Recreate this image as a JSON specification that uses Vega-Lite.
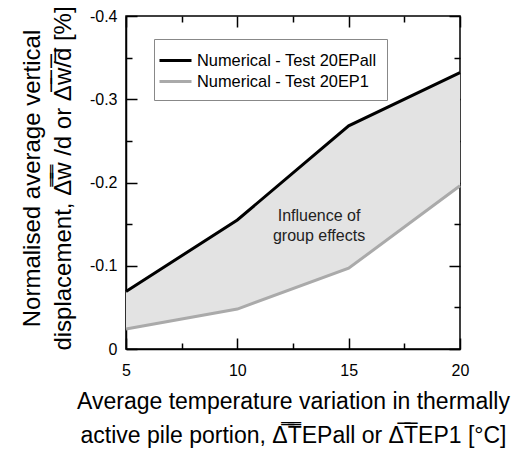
{
  "$schema": "https://vega.github.io/schema/vega-lite/v6.json",
  "width": 334,
  "height": 333,
  "autosize": "none",
  "padding": {"left": 126, "top": 16, "right": 56, "bottom": 109},
  "background": "white",
  "config": {
    "view": {"stroke": "black", "strokeWidth": 1.5},
    "font": "Liberation Sans",
    "axis": {
      "grid": false,
      "domainColor": "black",
      "domainWidth": 1.5,
      "tickColor": "black",
      "tickWidth": 1.5,
      "labelFont": "Liberation Sans",
      "labelFontSize": 16,
      "labelColor": "black",
      "titleColor": "black",
      "titleFont": "Liberation Sans",
      "titleFontWeight": "normal"
    },
    "legend": {
      "orient": "none",
      "legendX": 28,
      "legendY": 23,
      "title": null,
      "symbolType": "M-1.6,0H1.6",
      "symbolSize": 400,
      "symbolStrokeWidth": 3,
      "labelFont": "Liberation Sans",
      "labelFontSize": 16.4,
      "labelColor": "black",
      "labelOffset": 10,
      "labelLimit": 400,
      "fillColor": "white",
      "strokeColor": "#888",
      "padding": 10,
      "rowPadding": 1
    }
  },
  "data": {
    "values": [
      {"T": 5, "EPall": -0.069, "EP1": -0.024},
      {"T": 10, "EPall": -0.155, "EP1": -0.048},
      {"T": 15, "EPall": -0.268, "EP1": -0.097},
      {"T": 20, "EPall": -0.332, "EP1": -0.196}
    ]
  },
  "layer": [
    {
      "mark": {"type": "area", "color": "#e3e3e3"},
      "encoding": {
        "x": {
          "field": "T",
          "type": "quantitative",
          "scale": {"domain": [5, 20], "nice": false},
          "axis": {
            "orient": "bottom",
            "values": [5, 7.5, 10, 12.5, 15, 17.5, 20],
            "labelExpr": "datum.value % 5 == 0 ? datum.label : ''",
            "tickSize": {"condition": {"test": "datum.value % 5 == 0", "value": -11}, "value": -6},
            "labelPadding": 24,
            "labelFlush": false,
            "title": ["Average temperature variation in thermally", "active pile portion, Δ̿T̿EPall or Δ̅T̅EP1 [°C]"],
            "titleFontSize": 23,
            "titleLineHeight": 34,
            "titleBaseline": "alphabetic",
            "titleY": 59
          }
        },
        "y": {
          "field": "EPall",
          "type": "quantitative",
          "scale": {"domain": [-0.4, 0], "reverse": true, "nice": false},
          "axis": {
            "orient": "left",
            "values": [-0.4, -0.35, -0.3, -0.25, -0.2, -0.15, -0.1, -0.05, 0],
            "labelExpr": "round(datum.value*20) % 2 == 0 ? (datum.value == 0 ? '0' : '-' + format(abs(datum.value), '.1f')) : ''",
            "tickSize": {"condition": {"test": "round(datum.value*20) % 2 == 0", "value": -11}, "value": -6},
            "labelPadding": 20,
            "labelFlush": false,
            "title": ["Normalised average vertical", "displacement, Δ̿w̿ /d or Δ̅w̅/̅d̅ [%]"],
            "titleFontSize": 24,
            "titleLineHeight": 31,
            "titleBaseline": "alphabetic",
            "titleX": -87,
            "titleY": 162
          }
        },
        "y2": {"field": "EP1"}
      }
    },
    {
      "transform": [{"fold": ["EPall", "EP1"], "as": ["series", "value"]}],
      "mark": {"type": "line", "strokeWidth": 3},
      "encoding": {
        "x": {
          "field": "T",
          "type": "quantitative",
          "axis": {
            "orient": "top",
            "values": [5, 7.5, 10, 12.5, 15, 17.5, 20],
            "labels": false,
            "domain": false,
            "title": null,
            "tickSize": {"condition": {"test": "datum.value % 5 == 0", "value": -11}, "value": -6}
          }
        },
        "y": {
          "field": "value",
          "type": "quantitative",
          "axis": {
            "orient": "right",
            "values": [-0.4, -0.35, -0.3, -0.25, -0.2, -0.15, -0.1, -0.05, 0],
            "labels": false,
            "domain": false,
            "title": null,
            "tickSize": {"condition": {"test": "round(datum.value*20) % 2 == 0", "value": -11}, "value": -6}
          }
        },
        "color": {
          "field": "series",
          "type": "nominal",
          "scale": {"domain": ["EPall", "EP1"], "range": ["#000000", "#aaaaaa"]},
          "legend": {"labelExpr": "datum.label == 'EPall' ? 'Numerical - Test 20EPall' : 'Numerical - Test 20EP1'"}
        }
      }
    },
    {
      "data": {"values": [{"note": "Influence of group effects"}]},
      "mark": {"type": "text", "fontSize": 16, "fontWeight": "normal", "lineHeight": 20, "baseline": "middle", "align": "center", "color": "#222"},
      "encoding": {
        "x": {"datum": 13.67, "type": "quantitative", "axis": null},
        "y": {"datum": -0.16, "type": "quantitative", "axis": null},
        "text": {"value": ["Influence of", "group effects"]}
      }
    }
  ],
  "resolve": {"axis": {"x": "independent", "y": "independent"}}
}
